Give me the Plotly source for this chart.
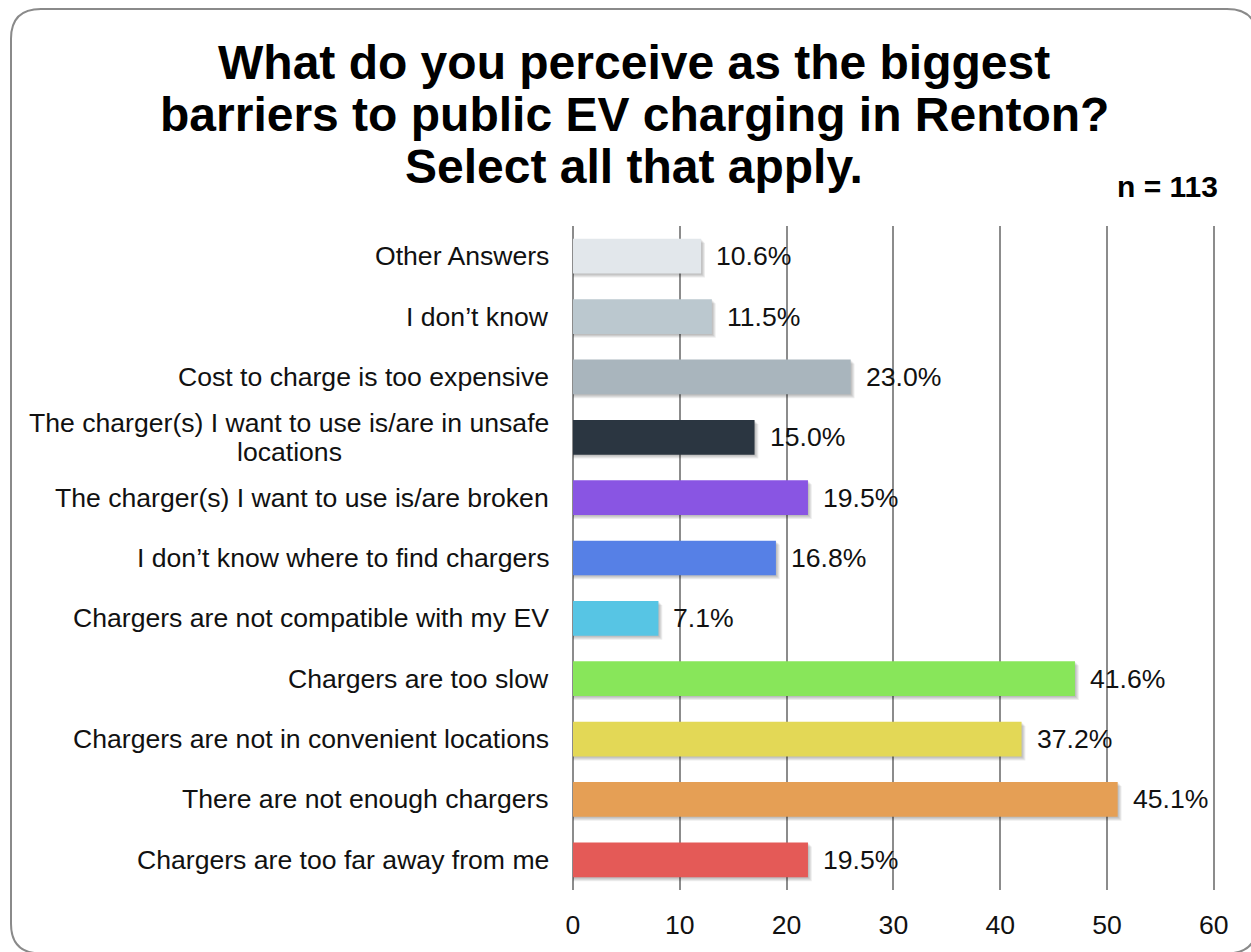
import plotly.graph_objects as go

# Survey responses (counts), listed top to bottom as displayed
categories = [
    "Other Answers",
    "I don’t know",
    "Cost to charge is too expensive",
    "The charger(s) I want to use is/are in unsafe<br>locations",
    "The charger(s) I want to use is/are broken",
    "I don’t know where to find chargers",
    "Chargers are not compatible with my EV",
    "Chargers are too slow",
    "Chargers are not in convenient locations",
    "There are not enough chargers",
    "Chargers are too far away from me",
]
counts = [12, 13, 26, 17, 22, 19, 8, 47, 42, 51, 22]
n_respondents = 113
bar_colors = [
    "#E2E7EB", "#BBC8CF", "#A9B5BD", "#2B3641", "#8955E3", "#5680E6",
    "#57C5E4", "#88E65A", "#E3D856", "#E59F55", "#E45A57",
]
x_ticks = [0, 10, 20, 30, 40, 50, 60]
title_lines = [
    "What do you perceive as the biggest",
    "barriers to public EV charging in Renton?",
    "Select all that apply.",
]

percent_labels = [f"{c / n_respondents * 100:.1f}%" for c in counts]

W, H = 1251, 952
L, R, T, B = 573, 1217, 226, 896  # plot area in pixels
X_MAX = 60.3                      # small headroom so the 60 gridline is drawn
FONT = "Liberation Sans, Arial, sans-serif"
LABEL_SIZE = 26.6
BAR_W = 0.575


def px_x(px):
    return (px - L) / (R - L)


def px_y(py):
    return (B - py) / (B - T)


fig = go.Figure()

# soft drop shadow behind each bar
n_cat = len(categories)
row_px = (B - T) / n_cat
for k in range(1, 5):
    fig.add_trace(go.Bar(
        y=categories, x=[c + k * 0.09 for c in counts], orientation="h",
        width=BAR_W, offset=-BAR_W / 2 + k / row_px,
        marker=dict(color="rgba(0,0,0,0.07)", line=dict(width=0)),
        hoverinfo="skip", showlegend=False,
    ))

fig.add_trace(go.Bar(
    y=categories, x=counts, orientation="h", width=BAR_W,
    marker=dict(color=bar_colors, line=dict(width=0)),
    showlegend=False,
))

annotations = []
# value labels at the end of each bar
for cat, c, lab in zip(categories, counts, percent_labels):
    annotations.append(dict(
        x=c, y=cat, xref="x", yref="y", text=lab, showarrow=False,
        xanchor="left", yanchor="middle", xshift=13,
        font=dict(family=FONT, size=LABEL_SIZE, color="#111111"),
    ))

# category labels to the left of the axis
for cat in categories:
    lines = cat.split("<br>")
    if len(lines) == 1:
        annotations.append(dict(
            x=0, y=cat, xref="x", yref="y", text=cat, showarrow=False,
            xanchor="right", yanchor="middle", xshift=-22,
            font=dict(family=FONT, size=LABEL_SIZE, color="#111111"),
        ))
    else:
        annotations.append(dict(
            x=0, y=cat, xref="x", yref="y", text=lines[0], showarrow=False,
            xanchor="right", yanchor="middle", xshift=-22, yshift=14,
            font=dict(family=FONT, size=LABEL_SIZE, color="#111111"),
        ))
        annotations.append(dict(
            x=0, y=cat, xref="x", yref="y", text=lines[1], showarrow=False,
            xanchor="center", yanchor="middle", xshift=-24 - 260, yshift=-15,
            font=dict(family=FONT, size=LABEL_SIZE, color="#111111"),
        ))

# title, one annotation per line
for line, cy in zip(title_lines, [61, 113, 166]):
    annotations.append(dict(
        x=px_x(634), y=px_y(cy), xref="paper", yref="paper", text=f"<b>{line}</b>",
        showarrow=False, xanchor="center", yanchor="middle",
        font=dict(family=FONT, size=48, color="#000000"),
    ))

annotations.append(dict(
    x=px_x(1220), y=px_y(186), xref="paper", yref="paper",
    text=f"<b>n = {n_respondents}</b>", showarrow=False,
    xanchor="right", yanchor="middle",
    font=dict(family=FONT, size=30, color="#000000"),
))

# rounded frame around the whole chart
x0, y0, x1, y1, r = 11, 7, 1257, 960, 30
pts = [
    ("M", [(x0 + r, y0)]),
    ("L", [(x1 - r, y0)]),
    ("Q", [(x1, y0), (x1, y0 + r)]),
    ("L", [(x1, y1 - r)]),
    ("Q", [(x1, y1), (x1 - r, y1)]),
    ("L", [(x0 + r, y1)]),
    ("Q", [(x0, y1), (x0, y1 - r)]),
    ("L", [(x0, y0 + r)]),
    ("Q", [(x0, y0), (x0 + r, y0)]),
]
path = " ".join(
    cmd + " " + " ".join(f"{px_x(a):.5f},{px_y(b):.5f}" for a, b in p) for cmd, p in pts
) + " Z"

fig.update_layout(
    width=W, height=H,
    margin=dict(l=L, r=W - R, t=T, b=H - B),
    paper_bgcolor="white", plot_bgcolor="white",
    barmode="overlay",
    showlegend=False,
    annotations=annotations,
    shapes=[dict(type="path", path=path, xref="paper", yref="paper",
                 line=dict(color="#8a8a8a", width=2), fillcolor="rgba(0,0,0,0)",
                 layer="below")],
    xaxis=dict(
        range=[0, X_MAX], tickvals=x_ticks, ticktext=[str(v) for v in x_ticks],
        showgrid=True, gridcolor="#8c8c8c", gridwidth=2,
        zeroline=True, zerolinecolor="#8c8c8c", zerolinewidth=2,
        showline=False, ticks="outside", ticklen=11, tickcolor="rgba(0,0,0,0)",
        tickfont=dict(family=FONT, size=LABEL_SIZE, color="#111111"),
        fixedrange=True,
    ),
    yaxis=dict(
        categoryorder="array", categoryarray=categories,
        range=[n_cat - 0.5, -0.5], showticklabels=False, showgrid=False,
        zeroline=False, showline=False, fixedrange=True,
    ),
)

fig.write_html("out.html")
